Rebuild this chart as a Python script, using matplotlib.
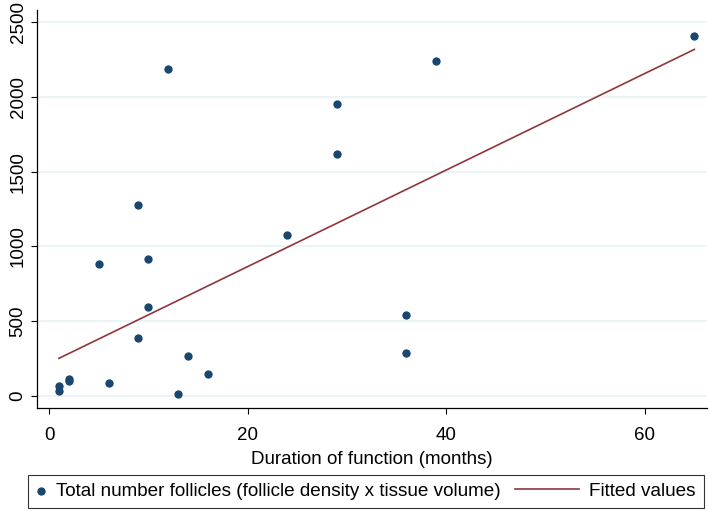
import numpy as np
import matplotlib.pyplot as plt
from matplotlib.legend_handler import HandlerLine2D

plt.rcParams['font.family'] = ['Liberation Sans', 'DejaVu Sans']

# Duration of function (months) and total follicle counts
months = [1, 1, 2, 2, 5, 6, 9, 9, 10, 10, 12, 13, 14, 16, 24, 29, 29, 36, 36, 39, 65]
follicles = [35, 65, 100, 115, 880, 85, 1275, 390, 915, 595, 2185, 15, 270, 145,
             1080, 1950, 1620, 545, 285, 2240, 2405]

# Fitted values as shown in the chart (at first and last month)
fit_months = [1, 65]
fit_values = [252, 2318]

x_ticks = [0, 20, 40, 60]
y_ticks = [0, 500, 1000, 1500, 2000, 2500]

navy = '#1a476f'
maroon = '#90353b'


class LongLine(HandlerLine2D):
    # draw the line sample longer, reaching back into the column gap
    def create_artists(self, legend, orig_handle, xdescent, ydescent, width,
                       height, fontsize, trans):
        extra = 2.88 * fontsize
        return super().create_artists(legend, orig_handle, xdescent + extra,
                                      ydescent, width + extra, height,
                                      fontsize, trans)


fig = plt.figure(figsize=(7.09, 5.11), dpi=100)
ax = fig.add_axes([0.0522, 0.2016, 0.9448, 0.7784])

for yt in y_ticks:
    ax.axhline(yt, color='#eaf2f3', linewidth=1.2, zorder=0)

sc = ax.scatter(months, follicles, s=36, color=navy, zorder=3, linewidths=0,
                label='Total number follicles (follicle density x tissue volume)')
ln, = ax.plot(fit_months, fit_values, color=maroon, linewidth=1.2, zorder=2,
              label='Fitted values')

ax.set_xlim(-1.21, 66.26)
ax.set_ylim(-80, 2580)
ax.set_xticks(x_ticks)
ax.set_yticks(y_ticks)
ax.tick_params(labelsize=13.5, length=4, width=0.8, color='black')
ax.tick_params(axis='x', pad=9.5)
for lab in ax.get_yticklabels():
    lab.set_rotation(90)
    lab.set_va('center')

ax.spines['top'].set_visible(False)
ax.spines['right'].set_visible(False)
ax.spines['left'].set_linewidth(0.9)
ax.spines['bottom'].set_linewidth(0.9)

ax.set_xlabel('Duration of function (months)', fontsize=13.5, labelpad=5)

leg = fig.legend(handles=[sc, ln], loc='center', ncol=2,
                 bbox_to_anchor=(0.5162, 0.0382), fontsize=13.6, frameon=True,
                 fancybox=False, edgecolor='black', handlelength=0.5,
                 handletextpad=0.56, columnspacing=3.62, borderpad=0.42,
                 handler_map={ln: LongLine()})
leg.get_frame().set_linewidth(0.8)

fig.savefig('out.png', dpi=100)
